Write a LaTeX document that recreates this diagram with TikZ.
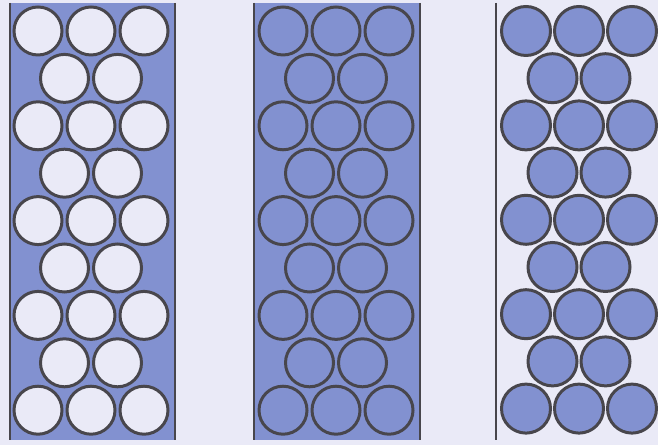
\documentclass[tikz,border=0pt]{standalone}
\definecolor{paper}{RGB}{234,234,247}
\definecolor{bead}{RGB}{130,145,208}
\definecolor{rim}{RGB}{72,70,76}

\begin{document}
\begin{tikzpicture}[x=0.02cm, y=-0.02cm, line width=1.7pt,
    wall/.style={rim, line width=1.5pt},
    whitebead/.style={rim, fill=paper},
    bluebead/.style={rim, fill=bead}]
  \fill[paper] (0,0) rectangle (658,445);
  \useasboundingbox (0,0) rectangle (658,445);

  \coordinate (A) at (91,0);
  \coordinate (B) at (336,0);
  \coordinate (C) at (579,0);

  % filled channels
  \fill[bead] (10,3) rectangle (175,440);
  \fill[bead] (254,3) rectangle (420,440);

  \draw[wall] (10,3) -- (10,440);
  \draw[wall] (175,3) -- (175,440);
  \draw[wall] (254,3) -- (254,440);
  \draw[wall] (420,3) -- (420,440);
  \draw[wall] (496,3) -- (496,440);

  % rows of three
  \foreach \k in {0,2,...,8}
    \foreach \dx in {-53,0,53} {
      \draw[whitebead] ([shift={(\dx,31+47.4*\k)}]A) circle (24);
      \draw[bluebead] ([shift={(\dx,31+47.4*\k)}]B) circle (24);
      \draw[bluebead] ([shift={(\dx,31+47.2*\k)}]C) circle (24.5);
    }

  % rows of two
  \foreach \k in {1,3,...,7}
    \foreach \dx in {-26.5,26.5} {
      \draw[whitebead] ([shift={(\dx,31+47.4*\k)}]A) circle (24);
      \draw[bluebead] ([shift={(\dx,31+47.4*\k)}]B) circle (24);
      \draw[bluebead] ([shift={(\dx,31+47.2*\k)}]C) circle (24.5);
    }
\end{tikzpicture}
\end{document}
